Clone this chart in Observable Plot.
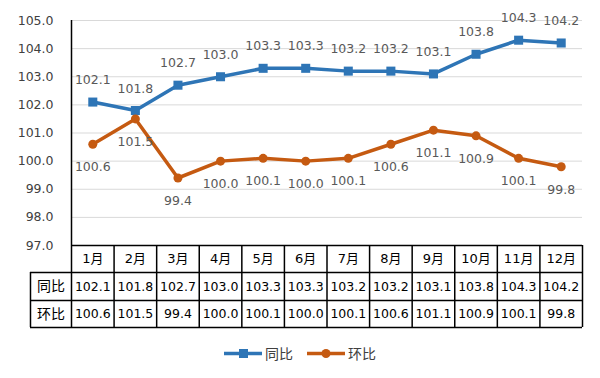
<!DOCTYPE html>
<html><head><meta charset="utf-8">
<script src="https://cdn.jsdelivr.net/npm/d3@7"></script>
<script src="https://cdn.jsdelivr.net/npm/@observablehq/plot@0.6"></script>
<style>
body{margin:0;background:#fff;width:600px;height:378px;overflow:hidden;position:relative;font-family:"DejaVu Sans","Noto Sans CJK SC",sans-serif}
#legend{position:absolute;left:0;top:343px;width:600px;height:20px;display:flex;justify-content:center;align-items:center;gap:14px;font-family:"Noto Sans CJK SC",sans-serif;font-size:14px;color:#404040}
.item{display:flex;align-items:center;gap:3px}
</style></head><body>
<div id="chart"></div>
<div id="legend"></div>
<script>
const months = ["1月","2月","3月","4月","5月","6月","7月","8月","9月","10月","11月","12月"];
const yoy = [102.1,101.8,102.7,103.0,103.3,103.3,103.2,103.2,103.1,103.8,104.3,104.2];
const mom = [100.6,101.5,99.4,100.0,100.1,100.0,100.1,100.6,101.1,100.9,100.1,99.8];
const seriesNames = ["同比","环比"];
const seriesColors = ["#2E75B6","#C55A11"];
const yTicks = [97,98,99,100,101,102,103,104,105];

const data = months.map((m,i)=>({m, i, yoy: yoy[i], mom: mom[i]}));
const cx = d => d.i + 0.5;

// table layout (in y data units below the axis minimum)
const rowLine1 = 96.04, rowLine2 = 95.044, rowLine3 = 94.084;
const headerY = 96.52, row1Y = 95.54, row2Y = 94.56;
const tableLeft = -0.963, labelX = -0.48;

const chart = Plot.plot({
  width: 600, height: 338,
  marginTop: 20, marginBottom: 93, marginLeft: 71, marginRight: 18,
  x: {type: "linear", domain: [0, 12], axis: null},
  y: {domain: [97, 105], axis: null},
  style: {fontFamily: '"DejaVu Sans","Noto Sans CJK SC",sans-serif', color: "#404040", background: "#fff"},
  marks: [
    Plot.ruleY(yTicks.filter(t => t > 97), {x1: 0, x2: 12, stroke: "#d9d9d9", strokeWidth: 1}),
    Plot.axisY({ticks: yTicks, tickFormat: d => d.toFixed(1), tickSize: 0, tickPadding: 18, fontSize: 12.5}),
    // table borders
    Plot.ruleY([97], {x1: 0, x2: 12, stroke: "#000", strokeWidth: 1.5}),
    Plot.ruleY([rowLine1, rowLine2, rowLine3], {x1: tableLeft, x2: 12, stroke: "#000", strokeWidth: 1.5}),
    Plot.ruleX(d3.range(1, 13), {y1: 97, y2: rowLine3, stroke: "#000", strokeWidth: 1.5}),
    Plot.ruleX([0], {y1: 105, y2: rowLine3, stroke: "#000", strokeWidth: 1.5}),
    Plot.ruleX([tableLeft], {y1: rowLine1, y2: rowLine3, stroke: "#000", strokeWidth: 1.5}),
    // table text
    Plot.text(data, {x: cx, y: () => headerY, text: "m", fontSize: 13, fill: "#000"}),
    Plot.text(data, {x: cx, y: () => row1Y, text: d => d.yoy.toFixed(1), fontSize: 12.5, fill: "#000"}),
    Plot.text(data, {x: cx, y: () => row2Y, text: d => d.mom.toFixed(1), fontSize: 12.5, fill: "#000"}),
    Plot.text(seriesNames, {x: () => labelX, y: (d, i) => [row1Y, row2Y][i], text: d => d, fontSize: 14, fill: "#000"}),
    // series
    Plot.line(data, {x: cx, y: "yoy", stroke: seriesColors[0], strokeWidth: 3.5}),
    Plot.dot(data, {x: cx, y: "yoy", symbol: "square", r: 5.1, fill: seriesColors[0], stroke: "none"}),
    Plot.line(data, {x: cx, y: "mom", stroke: seriesColors[1], strokeWidth: 3.5}),
    Plot.dot(data, {x: cx, y: "mom", r: 4.5, fill: seriesColors[1], stroke: "none"}),
    Plot.text(data, {x: cx, y: "yoy", text: d => d.yoy.toFixed(1), dy: -22, fontSize: 12.5, fill: "#595959"}),
    Plot.text(data, {x: cx, y: "mom", text: d => d.mom.toFixed(1), dy: 23, fontSize: 12.5, fill: "#595959"})
  ]
});
document.getElementById("chart").appendChild(chart);

const legend = document.getElementById("legend");
seriesNames.forEach((name, k) => {
  const item = document.createElement("div");
  item.className = "item";
  const marker = k === 0
    ? `<rect x="15" y="4" width="9" height="9" fill="${seriesColors[k]}"/>`
    : `<circle cx="19" cy="8.5" r="4.5" fill="${seriesColors[k]}"/>`;
  item.innerHTML = `<svg width="38" height="17"><line x1="0" x2="38" y1="8.5" y2="8.5" stroke="${seriesColors[k]}" stroke-width="3.5"/>${marker}</svg><span>${name}</span>`;
  legend.appendChild(item);
});
</script>
</body></html>
